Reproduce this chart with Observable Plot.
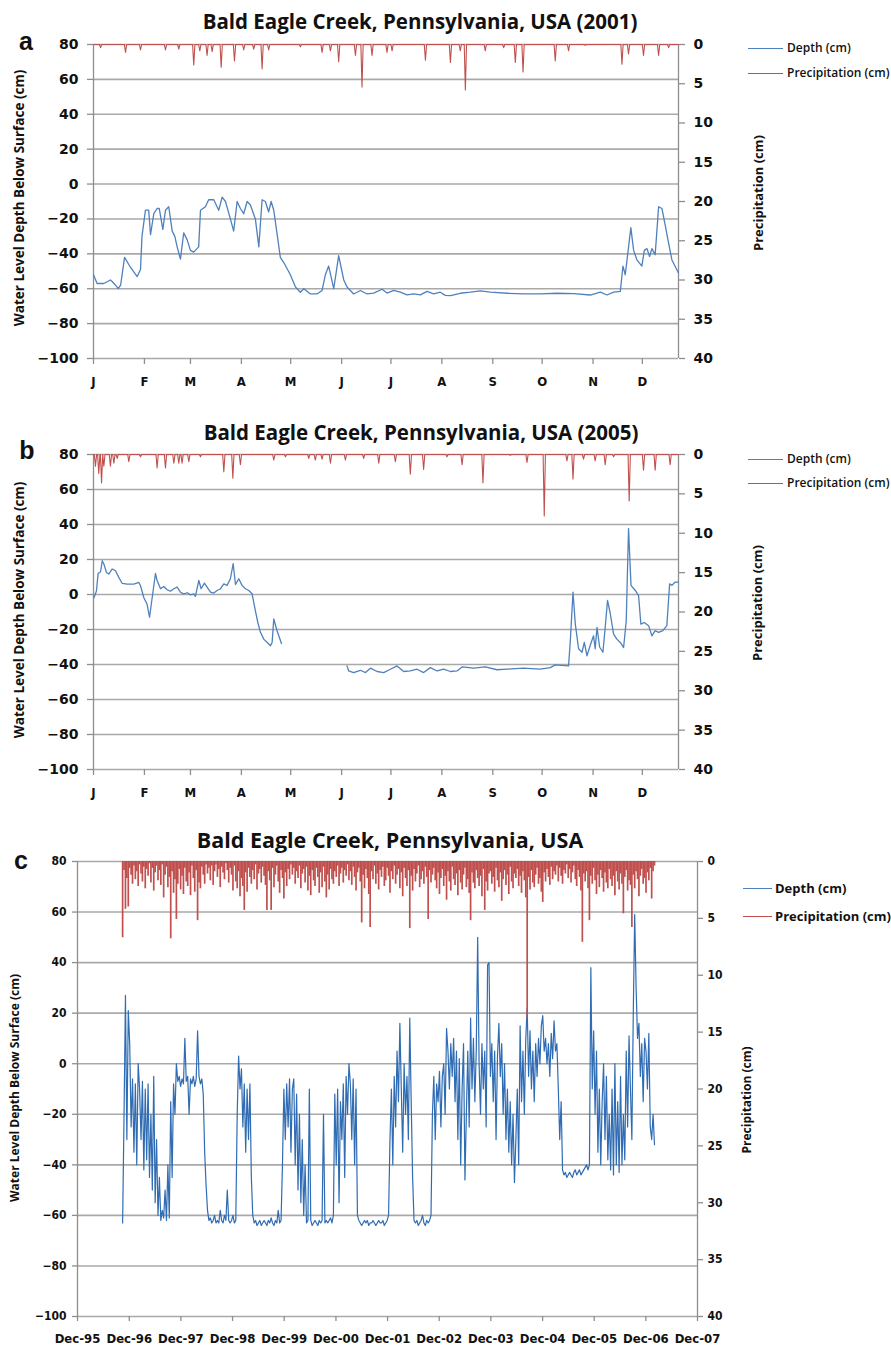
<!DOCTYPE html>
<html><head><meta charset="utf-8">
<script src="https://cdn.jsdelivr.net/npm/d3@7"></script>
<script src="https://cdn.jsdelivr.net/npm/@observablehq/plot@0.6"></script>
<style>
body{margin:0;background:#fff;}
#page{position:relative;width:891px;height:1350px;overflow:hidden;font-family:"Open Sans",sans-serif;color:#111;}
.t{position:absolute;white-space:nowrap;line-height:1;transform:translate(-50%,-50%);}
.title{font-weight:700;font-size:20.5px;}
.letter{font-family:"Liberation Sans",Arial,sans-serif;font-weight:700;font-size:25px;}
.v{position:absolute;white-space:nowrap;line-height:1;font-weight:700;transform:translate(-50%,-50%) rotate(-90deg);}
.leg{position:absolute;white-space:nowrap;line-height:1;font-weight:600;font-size:12px;transform:translateY(-50%);}
.ll{position:absolute;height:0;border-top:1.5px solid;}
</style></head>
<body><div id="page">
<div class="t title" style="left:420px;top:21px">Bald Eagle Creek, Pennsylvania, USA (2001)</div>
<div class="t letter" style="left:26px;top:41px">a</div>
<div class="v" style="left:20px;top:198px;font-size:13.5px">Water Level Depth Below Surface (cm)</div>
<div class="v" style="left:758px;top:193px;font-size:13px">Precipitation (cm)</div>
<div class="ll" style="left:748px;top:48px;width:35px;border-color:#4f81bd"></div>
<div class="leg" style="left:787px;top:48px">Depth (cm)</div>
<div class="ll" style="left:748px;top:73px;width:35px;border-color:#c0504d"></div>
<div class="leg" style="left:787px;top:73px">Precipitation (cm)</div>

<div class="t title" style="left:421px;top:432px">Bald Eagle Creek, Pennsylvania, USA (2005)</div>
<div class="t letter" style="left:27px;top:450px">b</div>
<div class="v" style="left:20px;top:610px;font-size:13.5px">Water Level Depth Below Surface (cm)</div>
<div class="v" style="left:757px;top:603px;font-size:13px">Precipitation (cm)</div>
<div class="ll" style="left:748px;top:459px;width:35px;border-color:#4f81bd"></div>
<div class="leg" style="left:787px;top:459px">Depth (cm)</div>
<div class="ll" style="left:748px;top:483px;width:35px;border-color:#c0504d"></div>
<div class="leg" style="left:787px;top:483px">Precipitation (cm)</div>

<div class="t title" style="left:390px;top:840px;font-size:21.5px">Bald Eagle Creek, Pennsylvania, USA</div>
<div class="t letter" style="left:21px;top:860px">c</div>
<div class="v" style="left:15px;top:1088px;font-size:12px">Water Level Depth Below Surface (cm)</div>
<div class="v" style="left:747px;top:1100px;font-size:12px">Precipitation (cm)</div>
<div class="ll" style="left:743px;top:888px;width:29px;border-color:#4f81bd"></div>
<div class="leg" style="left:775px;top:888px;font-size:13px;font-weight:700">Depth (cm)</div>
<div class="ll" style="left:743px;top:916px;width:29px;border-color:#c0504d"></div>
<div class="leg" style="left:775px;top:916px;font-size:13px;font-weight:700">Precipitation (cm)</div>
</div>
<script>
// ---------- data ----------
const depthTicks = [80, 60, 40, 20, 0, -20, -40, -60, -80, -100];
const precipTicks = [0, 5, 10, 15, 20, 25, 30, 35, 40];
const monthLabels = ["J","F","M","A","M","J","J","A","S","O","N","D"];
const yearTickLabels = ["Dec-95","Dec-96","Dec-97","Dec-98","Dec-99","Dec-00","Dec-01","Dec-02","Dec-03","Dec-04","Dec-05","Dec-06","Dec-07"];

// panel a (2001): [day of year, depth cm]
const aDepth = [[0,-52],[2.2,-57],[6.3,-57],[10.3,-55],[11.5,-56],[13.4,-58],[15,-60],[16.5,-58],[18.9,-42],[22,-47],[26.6,-53],[28.6,-49],[29.5,-30],[31.6,-15],[33.6,-15],[34.7,-29],[36.7,-17],[38.7,-14],[40,-14],[42.2,-26],[43.8,-15],[45.8,-13],[47.9,-27],[49.5,-30],[50.9,-36],[52.9,-43],[54.9,-28],[57,-32],[59,-38],[61,-39],[64,-36],[65.1,-15],[68.1,-13],[70.1,-9],[73.2,-9],[76.2,-15],[78.3,-7.5],[80.3,-10],[83.3,-20],[85.3,-27],[87.4,-10],[89.4,-14],[91.4,-17],[93.5,-10],[95.5,-12],[98.5,-20],[100.6,-36],[102.6,-9],[104.6,-10],[106.6,-16],[108.1,-10],[109.7,-15],[113.7,-42],[115.8,-45],[119.8,-52],[122.9,-59],[125.9,-62],[128,-60],[132,-63],[136,-63],[139.1,-61],[141.1,-52],[143.1,-47],[146.2,-60],[149.2,-41],[152.3,-55],[154.3,-59],[158.3,-63],[162.4,-61],[166.5,-63],[170.5,-62.5],[175.6,-60.3],[178.6,-62.5],[182.7,-61],[186.7,-62],[190.8,-63.5],[194.8,-63],[198.9,-63.5],[203,-61.5],[207,-63],[211,-62],[214.1,-63.8],[217.2,-64],[223.2,-62.6],[229.3,-62],[235.4,-61.2],[241.5,-62],[251.6,-62.6],[261.7,-63],[271.9,-63],[282,-62.6],[292.2,-62.8],[302.3,-63.6],[308.4,-62],[312.5,-63.6],[316.5,-62],[320.6,-61.5],[322.2,-47],[323.6,-52],[327,-25],[328.7,-38],[330.7,-43.5],[333.7,-47],[335.2,-38],[336.8,-37],[338.4,-41.5],[339.8,-37],[341.8,-40.5],[343.9,-13],[345.9,-14],[348,-24],[350,-34],[352,-43.5],[356,-51]];
// panel a: [day of year, precipitation cm]
const aPrecip = [[4.3,0.4],[19.5,1.0],[28.6,0.7],[43.8,0.7],[51.9,0.6],[61,2.6],[64.7,0.8],[69.1,1.4],[72.2,0.9],[77.7,2.9],[85.8,2.1],[91.4,0.7],[97.5,0.6],[102.6,3.1],[106.6,0.7],[125.9,0.3],[139.1,1.0],[144.2,0.8],[149.2,2.2],[159.4,1.4],[163.4,5.4],[169.5,1.4],[178.6,1.0],[181.7,0.8],[202,2.0],[217.2,2.3],[223.2,0.8],[226.3,5.8],[238.4,0.8],[249.6,0.4],[256.7,2.3],[261.4,3.5],[281,2.1],[289.1,0.8],[299.3,0.1],[321.6,2.5],[325.6,1.2],[334.7,1.4],[343.9,1.4],[350,0.4]];

// panel b (2005): [day of year, depth cm]; null = no record
const bDepth = [[0.2,-2],[1.8,2],[2.8,12],[4.3,13],[5.3,19.3],[6.3,17.4],[7.9,12.6],[9.3,11.7],[11.4,14.6],[13.4,13.6],[15.4,9.8],[17.5,6.3],[20.5,5.9],[24.5,5.9],[27.6,6.9],[28.6,5],[30.6,-1.7],[32.6,-5.6],[34.1,-13],[37.7,12],[38.7,8],[40.8,3.3],[42.8,4.6],[44.8,2.7],[46.8,1.9],[48.9,3.3],[50.9,4.2],[52.9,1.3],[54.9,0.4],[57,1],[59,-0.2],[61,0.4],[62,-1.1],[64.1,8],[65.5,3.3],[67.5,6.5],[69.1,4.2],[71.2,1.3],[73.2,0.8],[75.2,2.3],[77.3,3.3],[79.3,6.1],[81.3,5.2],[83.3,9],[85,17.6],[86.4,5.7],[88.4,9],[90.4,5.2],[92.5,3.3],[94.5,2.3],[96.5,0.4],[98.5,-9.2],[100,-16],[101.6,-21.6],[103.6,-25.5],[105.7,-27.4],[107.7,-29.3],[108.7,-27.4],[109.7,-14],[111.7,-20.7],[114.4,-28],[130,null],[154.3,-40.8],[155.3,-43.7],[158.3,-44.6],[162.4,-43.3],[165.5,-44.6],[168.5,-42.1],[172.6,-44],[176.6,-44.6],[180.7,-42.7],[184.7,-40.8],[188.8,-44],[192.8,-43.7],[196.9,-42.7],[200.9,-44.6],[205,-41.8],[209.1,-43.7],[213.1,-42.7],[217.2,-44],[221.2,-43.7],[224.3,-41.4],[231.3,-42.1],[238.4,-41.4],[245.6,-43],[251.6,-42.7],[261.7,-42.1],[271.9,-42.7],[278,-41.8],[281,-40.2],[289.1,-40.8],[290.1,-27.4],[291.8,1.3],[293.2,-16.9],[295.2,-31],[297.3,-33],[298.7,-27.4],[300.3,-35],[302.3,-29],[304.3,-23.6],[305.3,-31],[306.4,-18.8],[308,-30],[310,-33],[311.4,-18.8],[312.8,-3.4],[314.5,-11],[316.5,-22.6],[318.5,-25.5],[320.6,-27.4],[322.6,-30.3],[324.2,-15],[325.6,37.7],[327.1,5.2],[329.7,2.3],[331.7,-0.6],[333.1,-16.9],[335.2,-16],[337.8,-17.8],[339.8,-23.6],[341.8,-20.7],[343.9,-21.6],[346.5,-20.7],[348.9,-17.8],[350.6,6.1],[352,5.2],[354,7.1],[356,7.1]];
// panel b: [day of year, precipitation cm]
const bPrecip = [[1.2,1.5],[3.2,2.4],[4.9,3.6],[6.3,1.5],[10.3,1.5],[12.4,1.1],[14.4,0.5],[21.5,0.9],[28.6,0.3],[38.7,1.7],[43.8,1.7],[48.9,1.1],[51.9,1.1],[53.9,1.1],[58,0.9],[65.1,0.3],[79.3,2.2],[84.8,3.0],[89.4,1.3],[109.7,0.7],[116.8,0.3],[131,0.5],[135,0.7],[139.1,0.6],[144.2,1.1],[153.3,0.7],[164.4,0.5],[173.6,1.1],[183.7,0.9],[192.8,2.5],[200.9,1.9],[215.1,0.3],[224.3,1.3],[237,3.6],[253.6,0.1],[263.8,1.0],[274.3,7.8],[288.1,0.8],[291.8,3.1],[298.2,0.6],[305.3,0.8],[311.4,1.3],[316.5,0.3],[326,5.9],[334.7,2.0],[341.8,2.0],[350.9,1.3]];

// panel c (Oct 1996 - Mar 2007), one reading every 10 days starting 1996-10-15
const cStart = [1996, 9, 15];
const cStepDays = 10;
const cDepth = [
-63,-20,27,-30,21,8,-25,-6,-35,-8,
-40,0,-10,-30,-7,-42,-10,-38,-8,-45,
-20,-50,-5,-55,-30,-60,-45,-62,-58,-61,
-50,-62,-40,-61,-15,-45,-8,-20,0,-7,
-5,-9,-6,-8,10,-7,-5,-20,-6,-8,
-5,-9,-6,13,-5,-8,-6,-12,-35,-48,
-58,-62,-61,-63,-62,-60,-63,-62,-63,-58,
-62,-63,-60,-62,-50,-62,-63,-62,-60,-63,
-62,-20,3,-10,-2,-25,-8,-35,-10,-30,
-8,-45,-60,-63,-62,-64,-63,-62,-64,-63,
-62,-63,-64,-62,-63,-61,-63,-64,-62,-63,
-58,-63,-62,-40,-10,-30,-8,-25,-6,-35,
-10,-6,-40,-12,-50,-20,-55,-30,-60,-40,
-63,-62,-10,-62,-64,-63,-62,-63,-64,-62,
-63,-62,-20,-63,-62,-63,-62,-61,-63,-60,
-12,-40,-10,-55,-15,-30,-8,-45,-5,-20,
0,-8,-30,-6,-40,-10,-60,-62,-63,-64,
-63,-62,-63,-62,-64,-63,-63,-62,-63,-64,
-63,-62,-63,-63,-62,-64,-63,-62,-60,-30,
-10,-40,-5,-25,5,-15,16,-10,-35,0,
-20,-5,-30,18,-15,-45,-62,-63,-62,-64,
-63,-62,-60,-63,-64,-62,-63,-62,-60,-20,
-5,-30,-8,-15,-3,-25,-5,0,-20,14,
5,-10,8,-5,10,-15,5,-30,2,-40,
-10,8,-46,-20,5,-25,18,-10,10,-15,
5,50,0,-20,8,-10,5,-25,39,40,
-5,8,-15,5,-30,3,16,-5,8,-20,
0,-30,-10,-35,-15,-40,-20,-47,-30,-10,
-40,15,-15,5,-20,10,22,-5,13,-10,
5,-15,8,-5,10,0,15,19,5,10,
0,8,-5,12,2,17,5,8,-10,-30,
-15,-42,-44,-43,-45,-44,-43,-44,-45,-43,
-42,-44,-43,-42,-44,-43,-42,-41,-40,-42,
-40,38,-10,13,-20,5,-35,-10,-40,-15,
0,-30,-5,-38,-20,-42,-10,-44,0,-40,
-15,-43,-5,-40,-20,-38,5,-25,11,-10,
-30,20,59,30,10,16,-5,8,-15,10,
5,-10,12,-25,-30,-20,-32];
const cPrecip = [
6.7,0.8,4.2,1.5,4.0,0.6,1.2,2.0,0.4,1.6,0.9,2.2,0.3,1.1,1.8,0.5,2.4,0.7,1.3,0.2,
1.9,0.6,2.6,1.0,0.4,1.7,0.8,2.1,0.3,3.2,1.2,0.5,2.3,1.4,6.8,0.9,2.8,1.6,5.1,2.0,
0.7,2.5,1.3,2.9,0.6,1.8,2.2,1.0,3.0,0.4,1.5,2.7,0.8,5.2,1.9,2.4,0.5,1.2,2.0,0.3,
1.1,0.6,1.7,0.4,2.1,0.9,0.3,1.4,0.7,2.3,0.5,1.0,1.6,0.2,0.8,1.9,0.6,1.2,2.6,0.4,
1.8,2.4,0.9,3.1,1.5,2.2,4.3,1.0,2.7,0.6,1.4,2.0,0.8,1.6,0.3,2.5,1.1,0.7,1.9,0.5,
1.3,2.1,4.3,0.9,1.7,4.3,0.6,2.3,1.2,0.4,1.8,2.8,0.8,1.5,3.3,1.0,2.2,0.7,1.6,0.3,
1.2,0.6,2.0,0.9,1.5,0.4,2.4,1.1,0.7,1.9,0.5,2.6,1.3,3.0,0.8,1.7,2.2,0.6,1.4,2.8,
1.0,2.3,0.5,1.8,3.2,1.2,2.5,0.7,1.6,2.0,0.9,1.4,0.4,2.2,1.1,0.6,1.9,0.8,1.3,0.3,
1.7,0.9,2.1,0.5,1.4,2.6,1.0,0.6,1.8,5.4,1.2,2.4,0.7,1.5,2.9,5.8,0.9,1.6,0.4,2.0,
1.1,2.5,0.8,1.4,0.5,2.2,1.7,0.6,1.3,2.8,0.9,1.6,0.4,2.0,1.2,0.7,2.4,1.0,3.1,0.6,
1.5,2.2,0.8,5.9,1.3,2.6,0.7,1.8,1.1,0.4,2.3,1.6,0.9,2.0,0.5,1.4,5.1,0.8,1.9,1.2,
0.6,1.7,2.4,1.0,2.9,1.5,0.7,2.2,1.3,3.4,0.9,1.8,2.6,0.5,1.6,2.1,1.1,3.0,0.8,1.9,
2.5,1.2,0.6,2.3,1.6,2.8,5.2,1.0,1.9,2.4,0.8,1.5,2.2,1.3,3.1,0.7,4.3,1.8,2.6,1.1,
0.9,2.0,1.4,2.7,0.6,1.7,2.3,1.0,3.5,1.6,0.8,2.1,1.2,2.9,0.5,1.8,2.4,1.1,1.5,0.7,
2.2,1.3,2.8,0.9,1.7,3.2,13.8,1.4,2.5,0.8,1.9,2.3,1.2,0.6,2.0,1.5,2.7,3.6,1.0,1.8,
0.7,1.4,2.1,0.5,1.6,0.9,1.2,0.4,1.8,0.6,1.3,2.0,0.8,1.1,0.3,1.5,0.7,1.9,1.0,0.4,
1.6,2.2,0.8,1.4,2.6,7.1,1.1,1.8,0.9,2.4,5.2,1.3,2.0,0.6,1.7,2.9,1.2,2.3,0.8,1.5,
2.7,1.0,1.9,2.4,0.7,1.6,2.2,1.3,3.0,0.9,1.8,2.5,1.1,2.0,4.6,1.4,0.8,2.6,1.7,2.1,
5.8,1.2,2.4,0.9,1.6,3.1,1.3,0.7,2.0,1.5,2.8,1.0,1.7,0.6,3.3,0.9,0.4];

// ---------- drawing ----------
const W = 891, DAY = 864e5;
const RED = "#c0504d", BLUE = "#4f81bd", BLUE_C = "#2f6cb3", GRID = "#a9a9a9", AX = "#8e8e8e";
const page = document.getElementById("page");
const dayDate = (yr, d) => new Date(Date.UTC(yr, 0, 1) + d * DAY);

function spikeLine(yr, spikes, end) {
  const pts = [{x: dayDate(yr, 0), y: 0}];
  for (const [d, p] of spikes) {
    pts.push({x: dayDate(yr, d - 0.7), y: 0}, {x: dayDate(yr, d), y: p}, {x: dayDate(yr, d + 0.7), y: 0});
  }
  pts.push({x: dayDate(yr, end), y: 0});
  return pts;
}

function place(svg, top) {
  svg.style.position = "absolute";
  svg.style.left = "0px";
  svg.style.top = top + "px";
  page.appendChild(svg);
}

function makePanel(c) {
  const common = {width: W, height: c.height, marginTop: c.mt, marginBottom: c.mb, marginLeft: c.ml, marginRight: c.mr,
    style: {background: "transparent", overflow: "visible"}};
  const depth = Plot.plot({...common,
    x: {type: "utc", domain: c.xDomain},
    y: {domain: [-100, 80]},
    marks: [
      Plot.ruleY(depthTicks, {stroke: GRID, strokeWidth: 1.6}),
      Plot.ruleX(c.xDomain, {stroke: AX, strokeWidth: 1.3}),
      Plot.axisY(depthTicks, {anchor: "left", tickSize: c.ts, tickPadding: c.ltp, stroke: AX, strokeWidth: 1.3, label: null,
        fontSize: c.fs, fontWeight: "bold", fontFamily: c.ff, fill: "#111"}),
      Plot.axisX(c.xTicks, {anchor: "bottom", tickSize: c.ts, tickPadding: c.xtp, stroke: AX, strokeWidth: 1.3, label: null,
        tickFormat: c.xFmt, fontSize: c.xfs, fontWeight: "bold", fontFamily: c.xff, fill: "#111"}),
      c.depthMark
    ]});
  place(depth, c.top);
  const precip = Plot.plot({...common,
    x: {type: "utc", domain: c.xDomain, axis: null},
    y: {domain: [40, 0]},
    marks: [
      Plot.axisY(precipTicks, {anchor: "right", tickSize: c.ts, tickPadding: c.rtp, stroke: AX, strokeWidth: 1.3, label: null,
        fontSize: c.fs, fontWeight: "bold", fontFamily: c.ff, fill: "#111"}),
      c.precipMark
    ]});
  place(precip, c.top);
}

const monthTicks = yr => d3.range(12).map(m => new Date(Date.UTC(yr, m, 1)));
const monthFmt = d => monthLabels[d.getUTCMonth()];
const cond = "'DejaVu Sans Condensed', 'DejaVu Sans', sans-serif";

// panel a
makePanel({top: 0, height: 400, mt: 44, mb: 42, ml: 93, mr: 213,
  xDomain: [dayDate(2001, 0), dayDate(2001, 356)], xTicks: monthTicks(2001), xFmt: monthFmt,
  ts: 6, ltp: 9, rtp: 9, xtp: 12, fs: 14, ff: "DejaVu Sans, sans-serif", xfs: 13, xff: cond,
  depthMark: Plot.line(aDepth.map(([d, v]) => ({x: dayDate(2001, d), y: v})), {x: "x", y: "y", stroke: BLUE, strokeWidth: 1.3}),
  precipMark: Plot.line(spikeLine(2001, aPrecip, 356), {x: "x", y: "y", stroke: RED, strokeWidth: 1.1})
});

// panel b
makePanel({top: 410, height: 400, mt: 44, mb: 41, ml: 93, mr: 213,
  xDomain: [dayDate(2005, 0), dayDate(2005, 356)], xTicks: monthTicks(2005), xFmt: monthFmt,
  ts: 6, ltp: 9, rtp: 9, xtp: 12, fs: 14, ff: "DejaVu Sans, sans-serif", xfs: 13, xff: cond,
  depthMark: Plot.line(bDepth.map(([d, v]) => ({x: dayDate(2005, d), y: v})), {x: "x", y: "y", stroke: BLUE, strokeWidth: 1.3}),
  precipMark: Plot.line(spikeLine(2005, bPrecip, 356), {x: "x", y: "y", stroke: RED, strokeWidth: 1.1})
});

// panel c
const c0 = Date.UTC(cStart[0], cStart[1], cStart[2]);
const cRows = cDepth.map((v, i) => ({date: new Date(c0 + i * cStepDays * DAY), v, p: cPrecip[i]}));
const yearTicks = d3.range(1995, 2008).map(y => new Date(Date.UTC(y, 11, 1)));
makePanel({top: 830, height: 520, mt: 31, mb: 34, ml: 77, mr: 194,
  xDomain: [yearTicks[0], yearTicks[yearTicks.length - 1]], xTicks: yearTicks,
  xFmt: d => yearTickLabels[d.getUTCFullYear() - 1995],
  ts: 5, ltp: 6, rtp: 5, xtp: 12, fs: 12, ff: cond, xfs: 13, xff: cond,
  depthMark: Plot.line(cRows, {x: "date", y: "v", stroke: BLUE_C, strokeWidth: 1.2}),
  precipMark: Plot.ruleX(cRows, {x: "date", y1: 0, y2: "p", stroke: RED, strokeWidth: 1.7})
});
</script>
</body></html>
